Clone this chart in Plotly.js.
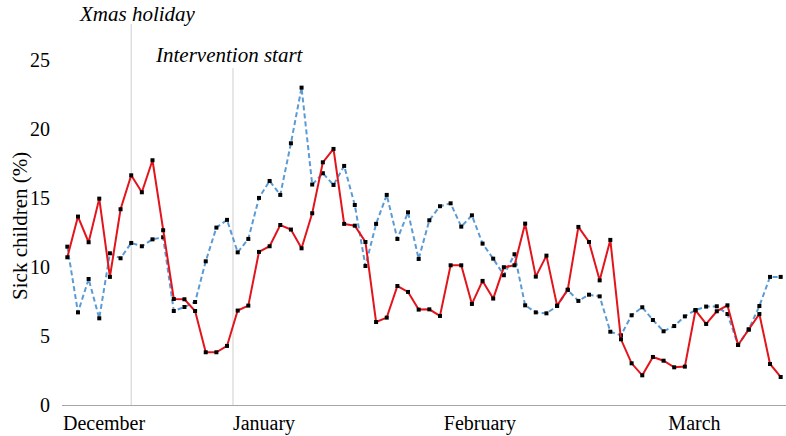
<!DOCTYPE html>
<html>
<head>
<meta charset="utf-8">
<script src="https://cdn.plot.ly/plotly-3.0.1.min.js"></script>
<style>
html,body{margin:0;padding:0;background:#fff;}
#chart{width:786px;height:436px;}
</style>
</head>
<body>
<div id="chart"></div>
<script>
// Sick children (%) per school day, Dec - Mar
const redSeries = [10.70, 13.65, 11.79, 14.95, 9.28, 14.18, 16.64, 15.41, 17.73, 12.66,
  7.68, 7.66, 6.81, 3.82, 3.82, 4.28, 6.84, 7.20, 11.09, 11.50,
  13.04, 12.71, 11.35, 13.89, 17.58, 18.55, 13.12, 12.99, 11.81, 6.01,
  6.33, 8.62, 8.19, 6.91, 6.93, 6.45, 10.12, 10.12, 7.32, 8.99,
  7.71, 9.98, 10.12, 13.14, 9.30, 10.82, 7.20, 8.36, 12.90, 11.81,
  9.03, 11.96, 4.76, 3.02, 2.15, 3.48, 3.21, 2.73, 2.78, 6.86,
  5.87, 6.79, 7.22, 4.35, 5.46, 6.59, 2.97, 2.03];

const blueSeries = [11.47, 6.71, 9.13, 6.28, 10.99, 10.63, 11.74, 11.50, 12.00, 12.15,
  6.81, 7.10, 7.46, 10.41, 12.85, 13.41, 11.06, 12.03, 15.00, 16.23,
  15.22, 18.96, 22.99, 15.97, 16.79, 15.94, 17.32, 14.49, 10.07, 13.12,
  15.22, 12.03, 13.96, 10.58, 13.38, 14.40, 14.61, 12.92, 13.74, 11.69,
  10.60, 9.40, 10.92, 7.22, 6.71, 6.64, 7.17, 8.33, 7.54, 7.99,
  7.87, 5.31, 5.05, 6.50, 7.08, 6.16, 5.34, 5.72, 6.42, 6.88,
  7.13, 7.15, 6.59, 4.35, 5.48, 7.17, 9.28, 9.28];

const dayIndex = redSeries.map((_, i) => i);

const monthLabels = ["December", "January", "February", "March"];
const yTicks = [0, 5, 10, 15, 20, 25];
const eventLabels = ["Xmas holiday", "Intervention start"];

const serifFont = "Liberation Serif";

const traces = [
  {
    x: dayIndex, y: blueSeries, type: "scatter", mode: "lines+markers",
    line: {color: "#5b9bd5", width: 2, dash: "5px,3px"},
    marker: {symbol: "square", size: 4, color: "#000"},
    cliponaxis: false, hoverinfo: "skip"
  },
  {
    x: dayIndex, y: redSeries, type: "scatter", mode: "lines+markers",
    line: {color: "#e3141b", width: 2},
    marker: {symbol: "square", size: 4, color: "#000"},
    cliponaxis: false, hoverinfo: "skip"
  }
];

const layout = {
  width: 786, height: 436,
  margin: {l: 62, r: 0, t: 24, b: 31, pad: 0},
  paper_bgcolor: "#fff", plot_bgcolor: "#fff",
  showlegend: false,
  font: {family: serifFont, size: 20, color: "#000"},
  xaxis: {
    range: [-0.5, 67.5],
    tickmode: "array",
    tickvals: [3.45, 18.47, 38.75, 58.9],
    ticktext: monthLabels,
    ticks: "", ticklen: 0,
    tickfont: {family: serifFont, size: 20, color: "#000"},
    showgrid: false, zeroline: false,
    showline: true, linecolor: "#a6a6a6", linewidth: 1
  },
  yaxis: {
    range: [0, 27.6],
    tickmode: "array",
    tickvals: yTicks,
    ticks: "outside", ticklen: 7, tickcolor: "rgba(0,0,0,0)",
    tickfont: {family: serifFont, size: 20, color: "#000"},
    showgrid: false, zeroline: false, showline: false
  },
  shapes: [
    {type: "line", xref: "x", yref: "y", x0: 6, x1: 6, y0: 0, y1: 27.6,
     line: {color: "#cfcfcf", width: 1}, layer: "below"},
    {type: "line", xref: "x", yref: "y", x0: 15.56, x1: 15.56, y0: 0, y1: 24.4,
     line: {color: "#cfcfcf", width: 1}, layer: "below"}
  ],
  annotations: [
    {text: eventLabels[0], xref: "paper", yref: "paper", x: (137 - 62) / 724, y: (405 - 14) / 381,
     xanchor: "center", yanchor: "middle", showarrow: false,
     font: {family: serifFont, size: 21, color: "#000", style: "italic"}},
    {text: eventLabels[1], xref: "paper", yref: "paper", x: (229 - 62) / 724, y: (405 - 55) / 381,
     xanchor: "center", yanchor: "middle", showarrow: false,
     font: {family: serifFont, size: 21, color: "#000", style: "italic"}},
    {text: "Sick children (%)", xref: "paper", yref: "paper", x: -0.058, y: 0.47,
     xanchor: "center", yanchor: "middle", textangle: -90, showarrow: false,
     font: {family: serifFont, size: 21, color: "#000"}}
  ]
};

Plotly.newPlot("chart", traces, layout, {displayModeBar: false, staticPlot: true});
</script>
</body>
</html>
